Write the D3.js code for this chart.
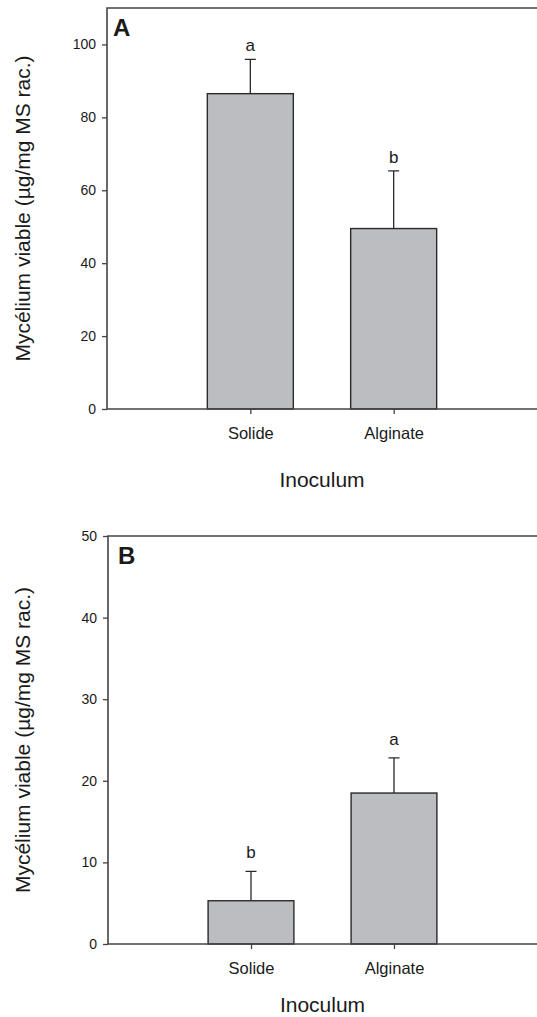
<!DOCTYPE html>
<html>
<head>
<meta charset="utf-8">
<script src="https://cdn.jsdelivr.net/npm/d3@7"></script>
<style>
  body { margin: 0; background: #fff; }
  text { font-family: "Liberation Sans", Arial, sans-serif; fill: #1a1a1a; }
  .axis path, .axis line { stroke: #444; stroke-width: 1.3; }
  .frame { stroke: #444; stroke-width: 1.6; fill: none; }
  .bar { fill: #bcbdc1; stroke: #2a2a2a; stroke-width: 1.4; }
  .err { stroke: #2a2a2a; stroke-width: 1.3; fill: none; }
</style>
</head>
<body>
<script>
var width = 537,
    height = 1017;

// data
var categories = ["Solide", "Alginate"];
var meansA = [86.5, 49.5],
    errA   = [9.4, 15.8],
    lettersA = ["a", "b"],
    ticksA = [0, 20, 40, 60, 80, 100];
var meansB = [5.3, 18.5],
    errB   = [3.6, 4.3],
    lettersB = ["b", "a"],
    ticksB = [0, 10, 20, 30, 40, 50];

var yTitle = "Mycélium viable (µg/mg MS rac.)",
    xTitle = "Inoculum";

var svg = d3.select("body").append("svg")
    .attr("width", width)
    .attr("height", height);

function panel(p) {
  var g = svg.append("g");

  var x = d3.scalePoint()
      .domain(categories)
      .range([p.left, width])
      .padding(1);

  var y = d3.scaleLinear()
      .domain([0, p.ymax])
      .range([p.bottom, p.top]);

  var barW = x.step() * 0.6;

  // y axis
  g.append("g")
      .attr("class", "axis")
      .attr("transform", "translate(" + p.left + ",0)")
      .call(d3.axisLeft(y).tickValues(p.ticks).tickSize(5).tickSizeOuter(0).tickPadding(6))
      .call(function(a) { a.select(".domain").remove(); })
      .selectAll("text")
        .style("font-size", "14px")
        .attr("fill", "#1a1a1a");

  // x axis
  g.append("g")
      .attr("class", "axis")
      .attr("transform", "translate(0," + p.bottom + ")")
      .call(d3.axisBottom(x).tickSize(5).tickSizeOuter(0).tickPadding(13))
      .call(function(a) { a.select(".domain").remove(); })
      .selectAll("text")
        .style("font-size", "16.5px")
        .attr("fill", "#1a1a1a");

  // bars
  g.selectAll(".bar")
    .data(p.means)
    .enter().append("rect")
      .attr("class", "bar")
      .attr("x", function(d, i) { return x(categories[i]) - barW / 2; })
      .attr("y", function(d) { return y(d); })
      .attr("width", barW)
      .attr("height", function(d) { return p.bottom - y(d); });

  // error bars (upper only)
  g.selectAll(".err")
    .data(p.means)
    .enter().append("path")
      .attr("class", "err")
      .attr("d", function(d, i) {
        var cx = x(categories[i]),
            t = y(d + p.err[i]);
        return "M" + cx + "," + y(d) + "V" + t + "M" + (cx - 5.5) + "," + t + "H" + (cx + 5.5);
      });

  // significance letters
  g.selectAll(".sig")
    .data(p.letters)
    .enter().append("text")
      .attr("class", "sig")
      .attr("x", function(d, i) { return x(categories[i]); })
      .attr("y", function(d, i) { return y(p.means[i] + p.err[i]) - p.letterGap; })
      .attr("text-anchor", "middle")
      .style("font-size", "17px")
      .text(function(d) { return d; });

  // frame: left, top and bottom lines
  g.append("path")
      .attr("class", "frame")
      .attr("d", "M" + width + "," + p.top + "H" + p.left + "V" + p.bottom + "H" + width);

  // panel letter
  g.append("text")
      .attr("x", p.left + p.labelDx)
      .attr("y", p.top + 28)
      .style("font-size", "24px")
      .style("font-weight", "bold")
      .text(p.name);

  // axis titles
  g.append("text")
      .attr("transform", "translate(30," + ((p.top + p.bottom) / 2) + ") rotate(-90)")
      .attr("text-anchor", "middle")
      .style("font-size", "21px")
      .text(yTitle);

  g.append("text")
      .attr("x", (p.left + width) / 2)
      .attr("y", p.bottom + p.titleGap)
      .attr("text-anchor", "middle")
      .style("font-size", "21px")
      .text(xTitle);
}

panel({name: "A", left: 107, top: 8, bottom: 409, ymax: 110, ticks: ticksA,
       means: meansA, err: errA, letters: lettersA, letterGap: 8, labelDx: 6, titleGap: 78});
panel({name: "B", left: 108, top: 536, bottom: 944, ymax: 50, ticks: ticksB,
       means: meansB, err: errB, letters: lettersB, letterGap: 13, labelDx: 10, titleGap: 68});
</script>
</body>
</html>
